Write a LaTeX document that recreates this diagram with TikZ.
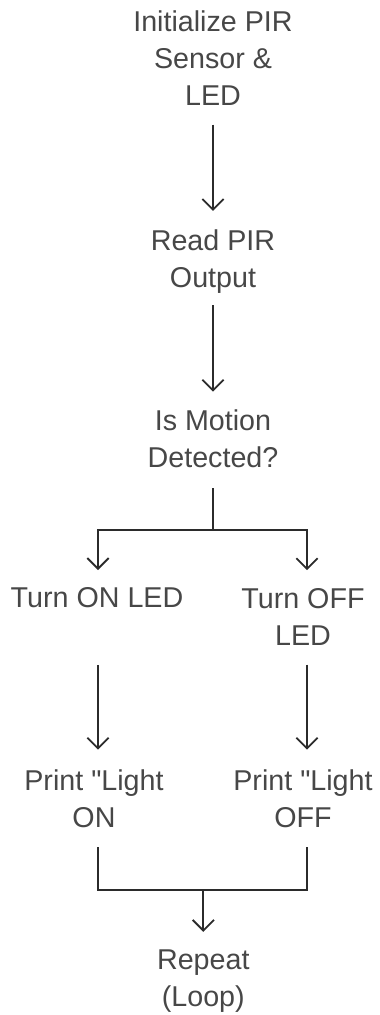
\documentclass[tikz,border=0pt]{standalone}
\usepackage{fontspec}
\setmainfont{Liberation Sans}[Ligatures=TeXOff]
\usetikzlibrary{arrows.meta,calc}
\definecolor{txt}{HTML}{474747}
\definecolor{lin}{HTML}{2B2B2B}
\begin{document}
\begin{tikzpicture}[x=0.75pt,y=-0.75pt,
  lbl/.style={inner sep=0pt,outer sep=0pt,align=center,text=txt,
    font=\fontsize{21.5pt}{27.75pt}\selectfont},
  ln/.style={draw=lin,line width=1.4pt},
  arr/.style={ln,-{Straight Barb[length=8pt,width=16pt]}}]
\useasboundingbox (0,0) rectangle (379,1015);
\coordinate (cL) at (98,0);
\coordinate (cR) at (307,0);
\coordinate (cB) at (203.3,0);
\node[lbl] (n1) at (213,58) {Initialize PIR\\Sensor \&\\LED};
\node[lbl] (n2) at (213,261.3) {Read PIR\\Output};
\node[lbl] (n3) at (213,438.25) {Is Motion\\Detected?};
\node[lbl] (n4) at (97,598) {Turn ON LED};
\node[lbl] (n5) at (303,616.5) {Turn OFF\\LED};
\node[lbl] (n6) at (94,798.25) {Print "Light\\ON};
\node[lbl] (n7) at (303,798.25) {Print "Light\\OFF};
\node[lbl] (n8) at (203.3,981) {Repeat\\(Loop)};
\coordinate (j1) at ($(n3.south)+(0,63)$);
\coordinate (j2) at ($(n6.south -| cB)+(0,63)$);
\draw[arr] ($(n1.south)+(0,19.3)$) -- ($(n2.north)+(0,-18.5)$);
\draw[arr] ($(n2.south)+(0,12)$) -- ($(n3.north)+(0,-17.5)$);
\draw[ln] ($(n3.south)+(0,21)$) -- (j1);
\draw[arr] (j1) -| ($(n4.north -| cL)+(0,-17.8)$);
\draw[arr] (j1) -| ($(n5.north -| cR)+(0,-17.8)$);
\draw[arr] ($(n4.south -| cL)+(0,56.7)$) -- ($(n6.north -| cL)+(0,-19.5)$);
\draw[arr] ($(n5.south -| cR)+(0,19.7)$) -- ($(n7.north -| cR)+(0,-19.5)$);
\draw[ln] ($(n6.south -| cL)+(0,20)$) |- (j2);
\draw[ln] ($(n7.south -| cR)+(0,20)$) |- (j2);
\draw[arr] (j2) -- ($(n8.north)+(0,-17.8)$);
\end{tikzpicture}
\end{document}
